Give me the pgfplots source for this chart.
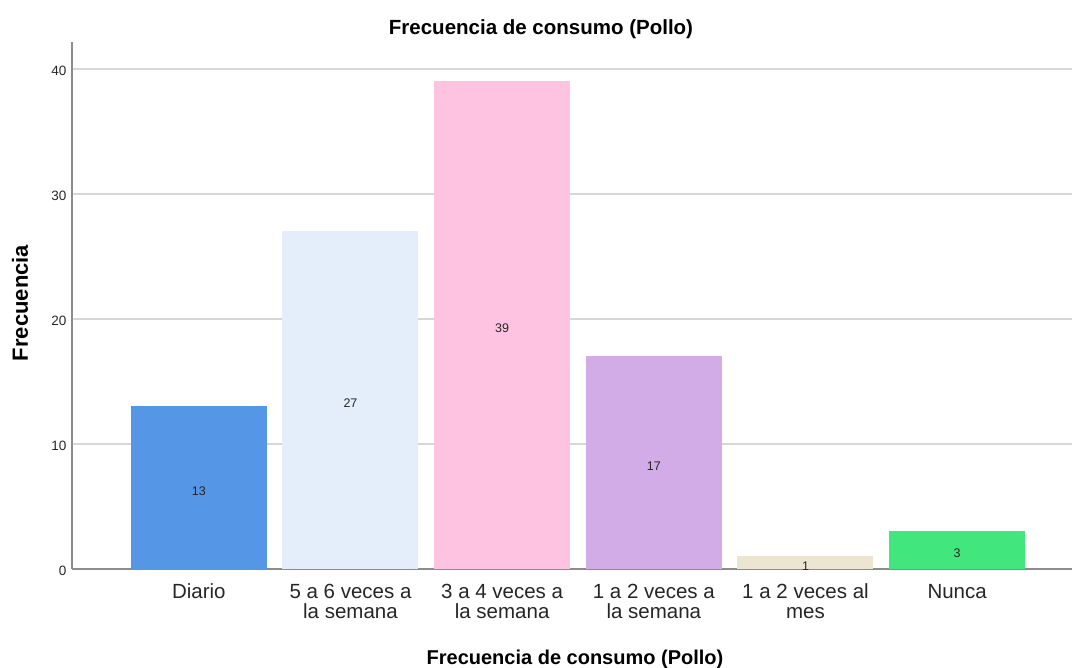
\documentclass[border=0pt]{standalone}
\usepackage{fontspec}
\setmainfont{Liberation Sans}
\usepackage{pgfplots}
\pgfplotsset{compat=1.18}
\definecolor{cA}{RGB}{85,150,230}
\definecolor{cB}{RGB}{227,238,250}
\definecolor{cC}{RGB}{254,195,225}
\definecolor{cD}{RGB}{210,172,230}
\definecolor{cE}{RGB}{236,229,210}
\definecolor{cF}{RGB}{65,230,125}
\definecolor{axisgray}{RGB}{140,140,140}
\definecolor{gridgray}{RGB}{215,215,215}
\newcommand{\ts}{\rule{0pt}{17pt}}
\begin{document}
\begin{tikzpicture}
\path[use as bounding box] (0,0) rectangle (1072pt,668pt);
\begin{axis}[
  at={(72pt,99pt)}, anchor=south west,
  scale only axis, width=1000pt, height=527pt,
  xmin=-0.836, xmax=5.757, ymin=0, ymax=42.16,
  axis lines*=left,
  axis line style={draw=axisgray, line width=1.5pt},
  ymajorgrids, grid style={draw=gridgray, line width=1.5pt},
  ytick={0,10,20,30,40},
  xtick={0,1,2,3,4,5},
  xticklabels={\ts Diario,{\ts 5 a 6 veces a\\la semana},{\ts 3 a 4 veces a\\la semana},{\ts 1 a 2 veces a\\la semana},{\ts 1 a 2 veces al\\mes},\ts Nunca},
  xticklabel style={align=center, font=\fontsize{20.5}{20}\selectfont, text=black!85, yshift=-9pt},
  yticklabel style={font=\fontsize{13.5}{16}\selectfont, text=black!85, xshift=-2pt, yshift=-2pt},
  major tick length=0pt,
  /pgf/number format/assume math mode=true,
  clip=false,
  ybar, bar width=136pt, bar shift=0pt,
]
\addplot[fill=cA, draw=none] coordinates {(0,13)};
\addplot[fill=cB, draw=none] coordinates {(1,27)};
\addplot[fill=cC, draw=none] coordinates {(2,39)};
\addplot[fill=cD, draw=none] coordinates {(3,17)};
\addplot[fill=cE, draw=none] coordinates {(4,1)};
\addplot[fill=cF, draw=none] coordinates {(5,3)};
\addplot[draw=none, fill=none, bar width=0pt, nodes near coords, point meta=explicit symbolic,
  nodes near coords style={anchor=center, yshift=-3pt, font=\fontsize{12.5}{14}\selectfont, text=black!85}]
  coordinates {(0,6.5)[13] (1,13.5)[27] (2,19.5)[39] (3,8.5)[17] (4,0.5)[1] (5,1.5)[3]};
\end{axis}
\node[font=\bfseries\fontsize{20.5}{24}\selectfont] at (541pt,639pt) {Frecuencia de consumo (Pollo)};
\node[font=\bfseries\fontsize{20}{24}\selectfont] at (575pt,9pt) {Frecuencia de consumo (Pollo)};
\node[font=\bfseries\fontsize{22}{24}\selectfont, rotate=90] at (20pt,365pt) {Frecuencia};
\end{tikzpicture}
\end{document}
